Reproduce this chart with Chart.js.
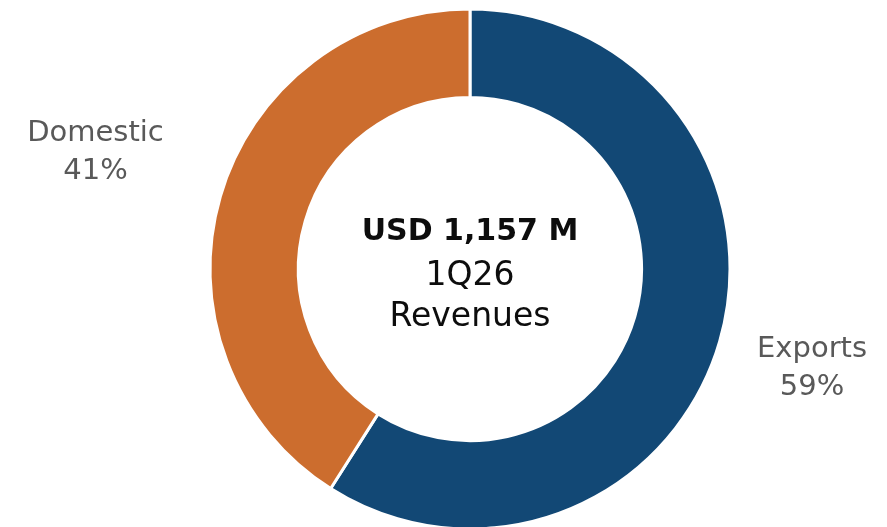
<!DOCTYPE html>
<html>
<head>
<meta charset="utf-8">
<script src="https://cdn.jsdelivr.net/npm/chart.js@4/dist/chart.umd.min.js"></script>
<style>
html,body{margin:0;padding:0;background:#fff;}
#wrap{width:887px;height:527px;position:relative;}
</style>
</head>
<body>
<div id="wrap"><canvas id="c" width="887" height="527"></canvas></div>
<script>
const categories = ["Exports", "Domestic"];
const shares = [59, 41];
const sliceLabels = ["Exports\n59%", "Domestic\n41%"];
const centerTitle = "USD 1,157 M";
const centerLines = ["1Q26", "Revenues"];

const colors = ["#124875", "#CC6D2E"];
const labelDist = [1.37, 1.5];
const labelDy = [0, -8];

const sliceLabelPlugin = {
  id: 'sliceLabels',
  afterDatasetsDraw(chart) {
    const ctx = chart.ctx;
    const meta = chart.getDatasetMeta(0);
    ctx.save();
    ctx.textAlign = 'center';
    ctx.textBaseline = 'middle';
    ctx.fillStyle = '#595959';
    ctx.font = '29px "DejaVu Sans"';
    meta.data.forEach((arc, i) => {
      const p = arc.getProps(['x','y','startAngle','endAngle','outerRadius'], true);
      const mid = (p.startAngle + p.endAngle) / 2;
      const r = p.outerRadius * labelDist[i];
      const cx = p.x + Math.cos(mid) * r;
      const cy = p.y + Math.sin(mid) * r + labelDy[i];
      const lines = sliceLabels[i].split('\n');
      const lh = 38;
      lines.forEach((ln, k) => {
        ctx.fillText(ln, cx, cy + (k - (lines.length - 1) / 2) * lh);
      });
    });
    // center text
    const a = meta.data[0];
    const cxy = a.getProps(['x','y'], true);
    ctx.fillStyle = '#0d0d0d';
    ctx.font = 'bold 30px "DejaVu Sans"';
    ctx.fillText(centerTitle, cxy.x, cxy.y - 37);
    ctx.font = '33px "DejaVu Sans"';
    ctx.fillText(centerLines[0], cxy.x, cxy.y + 7);
    ctx.fillText(centerLines[1], cxy.x, cxy.y + 48);
    ctx.restore();
  }
};

new Chart(document.getElementById('c'), {
  type: 'doughnut',
  data: {
    labels: categories,
    datasets: [{
      data: shares,
      backgroundColor: colors,
      borderColor: '#ffffff',
      borderWidth: 3,
      hoverOffset: 0
    }]
  },
  options: {
    responsive: false,
    animation: false,
    radius: 260,
    cutout: '66%',
    layout: { padding: { top: 11, bottom: 0, left: 53, right: 0 } },
    plugins: {
      legend: { display: false },
      tooltip: { enabled: false }
    }
  },
  plugins: [sliceLabelPlugin]
});
</script>
</body>
</html>
